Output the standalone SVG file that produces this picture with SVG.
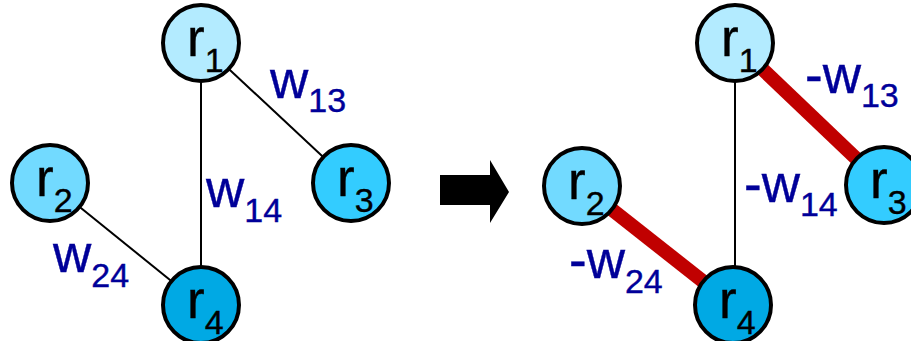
<svg xmlns="http://www.w3.org/2000/svg" width="911" height="341" viewBox="0 0 911 341">
  <style>
    .node { stroke: #000; stroke-width: 4; }
    .n1 { fill: #b3ebff; }
    .n2 { fill: #72daff; }
    .n3 { fill: #33ccff; }
    .n4 { fill: #00a9e4; }
    .lbl { font-family: "Liberation Sans", Arial, sans-serif; font-size: 53px; fill: #000; stroke: #000; stroke-width: 0.4; }
    .wt { font-family: "Liberation Sans", Arial, sans-serif; font-size: 53px; fill: #000099; stroke: #000099; stroke-width: 0.4; }
    .sub { font-size: 34px; }
    .edge { stroke: #000; stroke-width: 2; fill: none; }
    .neg { stroke: #c00000; stroke-width: 14; fill: none; }
  </style>

  <!-- connectors -->
  <g id="connectors">
    <line class="edge" x1="201" y1="43" x2="201" y2="305"/>
    <line class="edge" x1="201" y1="43" x2="351" y2="183"/>
    <line class="edge" x1="50" y1="183" x2="201" y2="305"/>
    <line class="edge" x1="735" y1="43" x2="735" y2="305"/>
    <line class="neg" x1="735" y1="43" x2="884" y2="185"/>
    <line class="neg" x1="582" y1="186" x2="733" y2="305"/>
    <!-- transform arrow -->
    <polygon fill="#000" points="440,175 490,175 490,160 509,192 490,223 490,205 440,205"/>
  </g>

  <!-- left graph -->
  <g id="L_r1">
    <circle class="node n1" cx="201" cy="43" r="38"/>
    <text class="lbl" x="187" y="56">r<tspan class="sub" dy="16">1</tspan></text>
  </g>
  <g id="L_r2">
    <circle class="node n2" cx="50" cy="183" r="38"/>
    <text class="lbl" x="36" y="196">r<tspan class="sub" dy="16">2</tspan></text>
  </g>
  <g id="L_r3">
    <circle class="node n3" cx="351" cy="183" r="38"/>
    <text class="lbl" x="337" y="196">r<tspan class="sub" dy="16">3</tspan></text>
  </g>
  <g id="L_r4">
    <circle class="node n4" cx="201" cy="305" r="38"/>
    <text class="lbl" x="187" y="318">r<tspan class="sub" dy="16">4</tspan></text>
  </g>
  <g id="L_labels">
    <text class="wt" x="270" y="98">w<tspan class="sub" dy="14">13</tspan></text>
    <text class="wt" x="206" y="207">w<tspan class="sub" dy="15">14</tspan></text>
    <text class="wt" x="53" y="272">w<tspan class="sub" dy="15">24</tspan></text>
  </g>

  <!-- right graph -->
  <g id="R_r1">
    <circle class="node n1" cx="735" cy="43" r="38"/>
    <text class="lbl" x="721" y="56">r<tspan class="sub" dy="16">1</tspan></text>
  </g>
  <g id="R_r2">
    <circle class="node n2" cx="582" cy="186" r="38"/>
    <text class="lbl" x="568" y="199">r<tspan class="sub" dy="16">2</tspan></text>
  </g>
  <g id="R_r3">
    <circle class="node n3" cx="884" cy="185" r="38"/>
    <text class="lbl" x="870" y="198">r<tspan class="sub" dy="16">3</tspan></text>
  </g>
  <g id="R_r4">
    <circle class="node n4" cx="733" cy="305" r="38"/>
    <text class="lbl" x="719" y="318">r<tspan class="sub" dy="16">4</tspan></text>
  </g>
  <g id="R_labels">
    <text class="wt" x="805" y="93">-w<tspan class="sub" dy="14">13</tspan></text>
    <text class="wt" x="744" y="202">-w<tspan class="sub" dy="14">14</tspan></text>
    <text class="wt" x="569" y="278">-w<tspan class="sub" dy="15">24</tspan></text>
  </g>
</svg>
